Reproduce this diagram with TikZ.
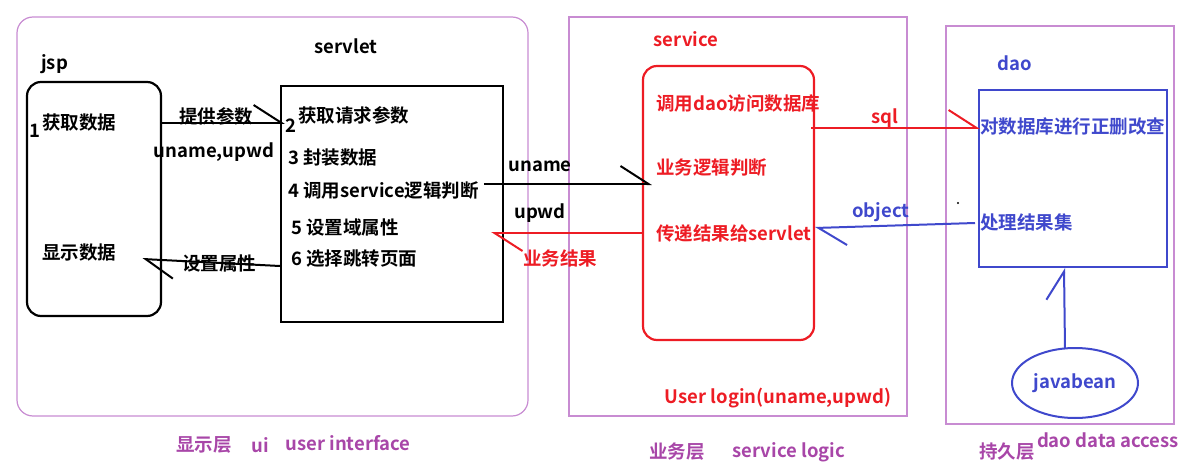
\documentclass[tikz,border=0pt]{standalone}
\usepackage{fontspec}
\setmainfont{Noto Sans CJK SC}[BoldFont={Noto Sans CJK SC Bold}]
\usepackage{xcolor}
\usepackage{tikz}
\usetikzlibrary{arrows.meta, positioning, shapes.geometric, calc}
\definecolor{layerpurple}{RGB}{200, 140, 210}
\definecolor{textpurple}{RGB}{168, 70, 168}
\definecolor{paintred}{RGB}{237, 28, 36}
\definecolor{paintblue}{RGB}{63, 72, 204}

\begin{document}
\begin{tikzpicture}[
    x=1pt, y=-1pt,
    lbl/.style={inner sep=0pt, font=\bfseries\fontsize{18.5}{20}\selectfont},
    item/.style={lbl, anchor=west},
    layername/.style={lbl, text=textpurple},
    layer/.style={rectangle, draw=layerpurple, line width=1.2pt},
    box/.style={rectangle, draw, line width=2.2pt},
    flow/.style={line width=2pt, -{Straight Barb[left, length=28pt, width=36pt]}}
]
    \useasboundingbox (0,0) rectangle (1197,468);

    % Layers
    \node (uilayer) [layer, rounded corners=16pt, minimum width=511pt, minimum height=399pt] at (272.5,216.5) {};
    \node (svclayer) [layer, minimum width=338pt, minimum height=399pt] at (738,216.5) {};
    \node (daolayer) [layer, minimum width=228pt, minimum height=398pt] at (1060,225) {};

    % Boxes
    \node (jsp) [box, rounded corners=14pt, minimum width=134pt, minimum height=234pt] at (94,199) {};
    \node (servlet) [box, minimum width=222pt, minimum height=236pt] at (392,204) {};
    \node (svc) [box, draw=paintred, rounded corners=14pt, minimum width=171pt, minimum height=274pt] at (728.5,203) {};
    \node (dao) [box, draw=paintblue, minimum width=188pt, minimum height=177pt] at (1073,178.5) {};
    \node (bean) [ellipse, draw=paintblue, line width=2pt, inner sep=0pt, minimum width=126pt, minimum height=70pt, font=\bfseries\fontsize{18.5}{20}\selectfont, text=paintblue] at (1075,383) {javabean};

    % jsp
    \node (jsplbl) [item] at (41,64) {jsp};
    \node (num1) [item] at (29,131) {1};
    \node (getdata) [item] at (42,123) {获取数据};
    \node (showdata) [item] at (42,253) {显示数据};

    % servlet
    \node (servletlbl) [lbl] at (346,46) {servlet};
    \node (num2) [item] at (285,126) {2};
    \node (step2) [item] at (298,115) {获取请求参数};
    \node (step3) [item] at (288,158) {3 封装数据};
    \node (step4) [item] at (288,190) {4 调用service逻辑判断};
    \node (step5) [item] at (291,227) {5 设置域属性};
    \node (step6) [item] at (291,259) {6 选择跳转页面};

    % service
    \node (svclbl) [lbl, text=paintred] at (686,39) {service};
    \node (calldao) [item, text=paintred] at (656,103) {调用dao访问数据库};
    \node (bizlogic) [item, text=paintred] at (656,167) {业务逻辑判断};
    \node (passresult) [item, text=paintred] at (656,233) {传递结果给servlet};
    \node (login) [lbl, text=paintred] at (778,398) {User login(uname,upwd)};

    % dao
    \node (daolbl) [lbl, text=paintblue] at (1015,63) {dao};
    \node (crud) [item, text=paintblue] at (980,126) {对数据库进行正删改查};
    \node (handle) [item, text=paintblue] at (980,222) {处理结果集};
    \fill (958,203) circle (1.2pt);

    % Connector labels
    \node (lblparam) [lbl] at (216,116) {提供参数};
    \node (lblnames) [lbl] at (214,152) {uname,upwd};
    \node (lblattr) [lbl] at (219,263) {设置属性};
    \node (lbluname) [lbl] at (540,166) {uname};
    \node (lblupwd) [lbl] at (540,213) {upwd};
    \node (lblresult) [lbl, text=paintred] at (560,258) {业务结果};
    \node (lblsql) [lbl, text=paintred] at (885,118) {sql};
    \node (lblobj) [lbl, text=paintblue] at (881,212) {object};

    % Connectors
    \draw [flow] (jsp.east |- getdata) -- (getdata -| num2.west);
    \draw [flow] ($(servlet.west |- step6)+(0,7)$) -- ($(showdata.east)+(26,6)$);
    \draw [flow] ($(step4.east)+(5,-6)$) -- ($(svc.west |- step4)+(10,-6)$);
    \draw [flow, color=paintred] (svc.west |- passresult) -- ($(servlet.east |- passresult)+(-13,0)$);
    \draw [flow, color=paintred] ($(svc.east |- crud)+(-4,2)$) -- ($(crud.west)+(0,2)$);
    \draw [flow, color=paintblue] ($(handle.west)+(-5,1)$) -- ($(svc.east |- passresult)+(0,-5)$);
    \draw [flow, color=paintblue] ($(bean.north)+(-10,2)$) -- ($(dao.south)+(-9,0)$);

    % Layer names
    \node (uiname) [layername] at (204,445) {显示层};
    \node (uiabbr) [layername] at (260,445) {ui};
    \node (uifull) [layername] at (348,443) {user interface};
    \node (svcname) [layername] at (677,452) {业务层};
    \node (svcfull) [layername] at (789,452) {service logic};
    \node (daoname) [layername] at (1007,452) {持久层};
    \node (daofull) [layername] at (1108,440) {dao data access};
\end{tikzpicture}
\end{document}
